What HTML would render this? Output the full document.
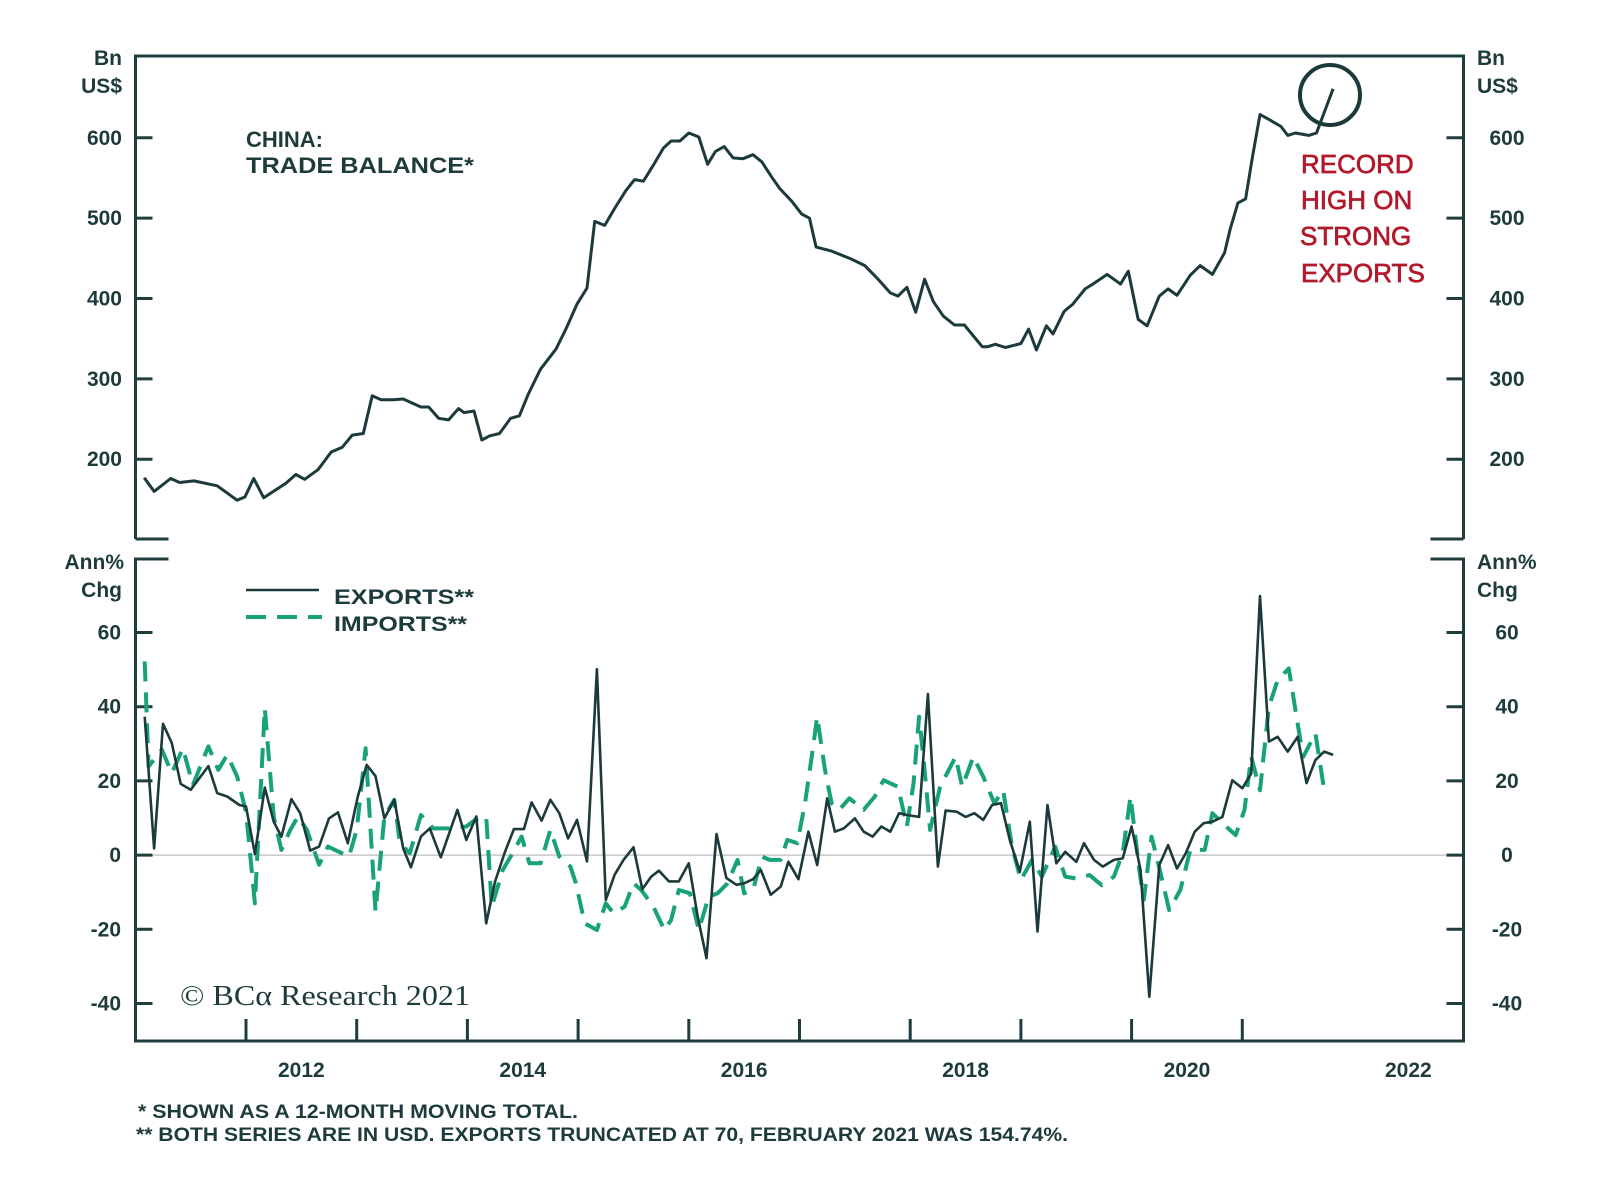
<!DOCTYPE html>
<html><head><meta charset="utf-8"><style>
html,body{margin:0;padding:0;background:#fff;}
svg{display:block;font-family:"Liberation Sans",sans-serif;}
.tk{font-size:21px;font-weight:bold;fill:#1e3b3c;}
</style></head><body>
<svg id="chart" width="1600" height="1186" viewBox="0 0 1600 1186" xmlns="http://www.w3.org/2000/svg">
<g id="frame"></g>
<g id="marks"></g>
<g id="labels"></g>
</svg>
<script>
// ---- data ----
const tbDates=[2011.08,2011.17,2011.32,2011.40,2011.53,2011.74,2011.92,2011.99,2012.07,2012.16,2012.36,2012.45,2012.53,2012.65,2012.77,2012.87,2012.96,2013.06,2013.14,2013.22,2013.33,2013.42,2013.58,2013.65,2013.74,2013.83,2013.92,2013.97,2014.06,2014.13,2014.20,2014.29,2014.39,2014.47,2014.55,2014.66,2014.80,2014.89,2014.99,2015.08,2015.15,2015.24,2015.33,2015.43,2015.51,2015.59,2015.68,2015.77,2015.84,2015.92,2016.00,2016.09,2016.17,2016.24,2016.32,2016.40,2016.49,2016.58,2016.66,2016.75,2016.82,2016.93,2017.02,2017.09,2017.15,2017.29,2017.47,2017.59,2017.71,2017.82,2017.89,2017.97,2018.05,2018.13,2018.21,2018.30,2018.40,2018.49,2018.65,2018.70,2018.77,2018.86,2019.00,2019.07,2019.14,2019.23,2019.29,2019.39,2019.47,2019.58,2019.64,2019.78,2019.90,2019.97,2020.06,2020.14,2020.25,2020.33,2020.41,2020.53,2020.62,2020.73,2020.84,2020.89,2020.96,2021.03,2021.09,2021.16,2021.25,2021.35,2021.41,2021.48,2021.60,2021.67,2021.82];
const tbValues=[177,160,176,171,173,167,149,153,176,152,170,181,175,187,209,215,230,232,279,274,274,275,265,265,251,249,263,258,260,224,229,232,251,254,281,312,337,362,393,413,496,491,512,534,548,546,566,587,596,596,606,601,567,583,589,575,574,579,570,551,537,521,505,500,464,459,449,441,424,407,403,414,383,424,396,378,367,367,340,340,343,339,344,362,336,366,356,384,393,412,417,430,418,434,374,366,403,412,404,429,441,430,457,486,519,524,575,629,622,614,603,606,603,606,661];
const exDates=[2011.085,2011.17,2011.25,2011.33,2011.41,2011.50,2011.66,2011.74,2011.83,2011.94,2012.00,2012.08,2012.17,2012.25,2012.32,2012.41,2012.49,2012.58,2012.66,2012.75,2012.83,2012.92,2013.01,2013.09,2013.17,2013.25,2013.34,2013.42,2013.49,2013.58,2013.66,2013.76,2013.91,2013.99,2014.08,2014.17,2014.25,2014.34,2014.42,2014.51,2014.58,2014.67,2014.75,2014.83,2014.91,2014.99,2015.08,2015.17,2015.25,2015.33,2015.41,2015.50,2015.58,2015.66,2015.73,2015.82,2015.91,2016.00,2016.08,2016.16,2016.25,2016.34,2016.43,2016.50,2016.58,2016.65,2016.74,2016.83,2016.90,2016.99,2017.08,2017.16,2017.25,2017.32,2017.40,2017.50,2017.58,2017.66,2017.74,2017.82,2017.90,2017.97,2018.08,2018.16,2018.25,2018.32,2018.42,2018.50,2018.58,2018.66,2018.74,2018.82,2018.90,2018.99,2019.08,2019.15,2019.24,2019.32,2019.40,2019.50,2019.57,2019.66,2019.74,2019.84,2019.92,2020.00,2020.08,2020.16,2020.25,2020.33,2020.41,2020.49,2020.57,2020.65,2020.73,2020.82,2020.91,2021.00,2021.08,2021.16,2021.24,2021.32,2021.41,2021.50,2021.58,2021.66,2021.74,2021.82];
const exValues=[37.3,1.8,35.4,30.2,19.2,17.6,24.0,16.7,15.8,13.5,13.1,0.3,18.2,9.0,5.0,15.1,11.3,1.2,2.3,9.9,11.5,3.2,15.8,24.3,21.3,9.9,14.9,1.8,-3.3,5.0,7.2,-0.6,12.2,4.1,10.4,-18.4,-7.1,0.9,7.0,7.0,14.2,9.3,14.9,11.3,4.5,9.5,-1.7,50.1,-12.1,-5.3,-1.3,2.1,-9.2,-5.8,-4.2,-7.1,-7.1,-2.2,-16.6,-27.8,5.7,-6.2,-8.0,-7.6,-6.5,-4.0,-10.7,-8.5,-1.8,-6.5,6.3,-2.7,15.3,6.3,7.2,9.9,6.3,5.0,7.7,6.3,11.3,10.8,10.3,43.4,-3.1,12.0,11.7,10.3,11.3,9.5,13.5,14.0,4.1,-4.5,9.0,-20.6,13.5,-2.2,0.9,-1.8,3.2,-1.3,-3.1,-1.3,-0.9,7.7,-4.0,-38.2,-2.7,2.7,-3.6,0.5,6.3,8.6,9.0,10.3,20.2,18.0,22.0,69.8,30.6,31.9,27.9,31.9,19.4,25.6,27.9,27.0];
const imDates=[2011.085,2011.12,2011.24,2011.33,2011.43,2011.52,2011.66,2011.75,2011.83,2011.92,2012.00,2012.08,2012.17,2012.25,2012.32,2012.40,2012.47,2012.55,2012.66,2012.74,2012.93,2013.00,2013.08,2013.17,2013.25,2013.34,2013.39,2013.48,2013.58,2013.69,2013.84,2013.99,2014.07,2014.17,2014.22,2014.32,2014.39,2014.49,2014.56,2014.66,2014.75,2014.83,2014.93,2014.98,2015.06,2015.17,2015.25,2015.32,2015.42,2015.50,2015.57,2015.68,2015.78,2015.84,2015.91,2016.01,2016.09,2016.18,2016.26,2016.35,2016.44,2016.50,2016.58,2016.66,2016.73,2016.83,2016.89,2016.98,2017.05,2017.11,2017.16,2017.23,2017.29,2017.36,2017.45,2017.58,2017.68,2017.76,2017.89,2017.97,2018.03,2018.08,2018.13,2018.18,2018.27,2018.41,2018.47,2018.57,2018.66,2018.76,2018.84,2018.92,2019.00,2019.10,2019.19,2019.31,2019.40,2019.50,2019.62,2019.73,2019.84,2019.92,2019.99,2020.07,2020.11,2020.18,2020.24,2020.34,2020.44,2020.53,2020.66,2020.73,2020.82,2020.94,2021.02,2021.08,2021.16,2021.24,2021.32,2021.42,2021.49,2021.55,2021.66,2021.74];
const imValues=[52.2,23.9,28.4,22.1,28.8,18.9,29.3,23.0,27.0,21.2,11.7,-13.0,39.6,10.4,1.4,6.8,10.4,6.8,-2.6,2.3,-0.4,6.8,28.8,-15.2,10.4,14.9,3.2,0.5,10.8,7.2,7.2,7.7,9.5,10.4,-13.9,-4.0,-0.4,5.0,-2.2,-2.2,6.8,-0.4,-3.1,-7.6,-18.4,-20.2,-13.0,-15.7,-13.9,-7.6,-9.4,-13.9,-20.2,-17.5,-9.4,-10.3,-20.2,-11.2,-10.3,-7.6,-1.3,-10.3,-9.4,-0.4,-1.3,-1.3,4.1,3.2,14.0,26.5,37.3,22.9,14.0,12.2,15.3,12.2,15.8,20.2,18.4,7.7,19.3,37.3,22.9,6.8,18.4,26.5,18.4,26.5,21.1,14.0,17.5,2.3,-6.7,-1.3,-5.8,2.3,-5.8,-6.3,-5.4,-8.1,-5.8,0.5,15.8,-4.0,-12.1,5.0,-2.2,-14.8,-9.4,1.4,1.4,11.3,8.6,5.4,12.2,26.5,17.5,40.0,47.2,50.3,37.3,26.5,32.8,17.5];
const topTicks=[200,300,400,500,600];
const botTicks=[-40,-20,0,20,40,60];
const yearLabels=[2012,2014,2016,2018,2020,2022];
const yearTicks=[2012,2013,2014,2015,2016,2017,2018,2019,2020,2021];

// ---- scales ----
const L=135.5,R=1463.5,T1=56,B1=539,T2=559,B2=1041;
const x=t=>246+(t-2012)*110.7;
const yT=v=>137.8+(600-v)*0.8036;
const yB=v=>855.1-v*3.71;
const NS='http://www.w3.org/2000/svg';
const C='#1f3d3e';
function mk(parent,tag,attrs,text){const e=document.createElementNS(NS,tag);for(const k in attrs)e.setAttribute(k,attrs[k]);if(text!==undefined)e.textContent=text;parent.appendChild(e);return e;}
const frame=document.getElementById('frame'),marks=document.getElementById('marks'),labels=document.getElementById('labels');

let p=mk(frame,'path',{d:`M${L},${B1} V${T1} H${R} V${B1} M${L},${B1} h33 M${R},${B1} h-33`,fill:'none',stroke:C,'stroke-width':3});


p=mk(frame,'path',{d:`M${L+33},${T2} H${L} V${B2} H${R} V${T2} h-33`,fill:'none',stroke:C,'stroke-width':3});


p=mk(frame,'line',{x1:L,x2:R,y1:yB(0),y2:yB(0),stroke:'#c8c8c8','stroke-width':1.5});



topTicks.forEach(v=>{
  const y=yT(v);
  let a=mk(frame,'path',{d:`M${L},${y} h17 M${R},${y} h-17`,stroke:C,'stroke-width':3});
  
  
  let t=mk(labels,'text',{x:122,y:y+7,'text-anchor':'end',class:'tk'},v);
  
  
  t=mk(labels,'text',{x:1507,y:y+7,'text-anchor':'middle',class:'tk'},v);
  
  
});
botTicks.forEach(v=>{
  const y=yB(v);
  let a=mk(frame,'path',{d:`M${L},${y} h17 M${R},${y} h-17`,stroke:C,'stroke-width':3});
  
  
  let t=mk(labels,'text',{x:121,y:y+7,'text-anchor':'end',class:'tk'},v);
  
  
  t=mk(labels,'text',{x:1507,y:y+7,'text-anchor':'middle',class:'tk'},v);
  
  
});
yearTicks.forEach(yr=>{
  let a=mk(frame,'line',{x1:x(yr),x2:x(yr),y1:B2,y2:B2-22,stroke:C,'stroke-width':3});
  
  
});
yearLabels.forEach(yr=>{
  let t=mk(labels,'text',{x:x(yr+0.5),y:1077,'text-anchor':'middle',class:'tk'},yr);
  
  
});

function pts(ds,vs,fy){return ds.map((d,i)=>x(d).toFixed(1)+','+fy(vs[i]).toFixed(1)).join(' ');}
let s=mk(marks,'polyline',{points:pts(imDates,imValues,yB),fill:'none',stroke:'#17a279','stroke-width':4,'stroke-dasharray':'20 11','stroke-linejoin':'round'});


s=mk(marks,'polyline',{points:pts(exDates,exValues,yB),fill:'none',stroke:'#1c3a3b','stroke-width':2.6,'stroke-linejoin':'round'});


s=mk(marks,'polyline',{points:pts(tbDates,tbValues,yT),fill:'none',stroke:'#1c3a3b','stroke-width':3,'stroke-linejoin':'round'});


s=mk(marks,'circle',{cx:1330,cy:95,r:30,fill:'none',stroke:'#1c3a3b','stroke-width':4});


</script>
<svg width="1600" height="1186" style="position:absolute;left:0;top:0" xmlns="http://www.w3.org/2000/svg">
<g font-family="Liberation Sans, sans-serif" font-weight="bold" fill="#1e3b3c" font-size="21">
<text x="122" y="65" text-anchor="end">Bn</text>
<text x="122" y="93" text-anchor="end">US$</text>
<text x="1477" y="65">Bn</text>
<text x="1477" y="93">US$</text>
<text x="124" y="569" text-anchor="end">Ann%</text>
<text x="122" y="597" text-anchor="end">Chg</text>
<text x="1477" y="569">Ann%</text>
<text x="1477" y="597">Chg</text>
<text x="246" y="147" font-size="22">CHINA:</text>
<text x="246" y="173" font-size="22" textLength="228" lengthAdjust="spacingAndGlyphs">TRADE BALANCE*</text>
<text x="334" y="604" font-size="21" textLength="140" lengthAdjust="spacingAndGlyphs">EXPORTS**</text>
<text x="334" y="631" font-size="21" textLength="133" lengthAdjust="spacingAndGlyphs">IMPORTS**</text>
<text x="138" y="1118" font-size="19" textLength="440" lengthAdjust="spacingAndGlyphs">*  SHOWN AS A 12-MONTH MOVING TOTAL.</text>
<text x="136" y="1141" font-size="19" textLength="932" lengthAdjust="spacingAndGlyphs">** BOTH SERIES ARE IN USD. EXPORTS TRUNCATED AT 70, FEBRUARY 2021 WAS 154.74%.</text>
</g>
<line x1="246" x2="319" y1="590" y2="590" stroke="#1c3a3b" stroke-width="2.6"/>
<line x1="246" x2="322" y1="617" y2="617" stroke="#17a279" stroke-width="4" stroke-dasharray="20 11"/>
<g font-family="Liberation Sans, sans-serif" fill="#b3192b" stroke="#b3192b" stroke-width="0.7" font-size="26">
<text x="1301" y="173">RECORD</text>
<text x="1301" y="209">HIGH ON</text>
<text x="1300" y="245">STRONG</text>
<text x="1301" y="282">EXPORTS</text>
</g>
<text x="180" y="1005" font-family="Liberation Serif, serif" font-size="29" fill="#1e3b3c" textLength="290" lengthAdjust="spacingAndGlyphs">© BCα Research 2021</text>
</svg>
</body></html>
